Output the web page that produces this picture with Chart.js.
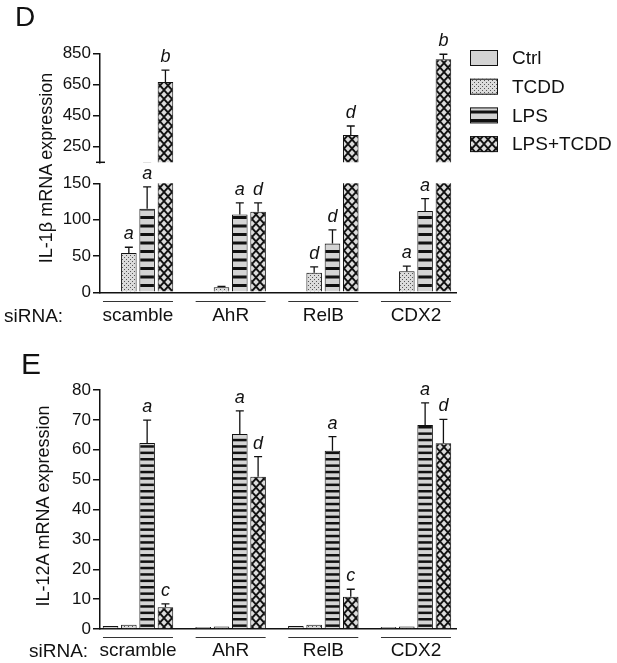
<!DOCTYPE html>
<html lang="en">
<head>
<meta charset="UTF-8">
<title>IL-1β / IL-12A mRNA expression</title>
<script src="https://cdn.jsdelivr.net/npm/chart.js"></script>
<style>
  body { margin: 0; background: #fff; font-family: "Liberation Sans", Arial, sans-serif; color: #111; }
  #wrap { position: relative; width: 617px; height: 663px; overflow: hidden; }
  canvas { position: absolute; left: 0; }
  .txt { position: absolute; white-space: nowrap; line-height: 1; }
  .ytitle { position: absolute; white-space: nowrap; line-height: 1; font-size: 18px;
            transform: translate(-50%, -50%) rotate(-90deg); }
</style>
</head>
<body>
<div id="wrap">
  <canvas id="dTop" width="617" height="175" style="top:0"></canvas>
  <canvas id="dBottom" width="617" height="165" style="top:165px"></canvas>
  <canvas id="eChart" width="617" height="333" style="top:330px"></canvas>

  <div class="txt" style="left:15px; top:3px; font-size:28px">D</div>
  <div class="ytitle" style="left:46px; top:168px">IL-1β mRNA expression</div>
  <div class="txt" style="left:4px; top:306px; font-size:19px">siRNA:</div>

  <div class="txt" style="left:21px; top:349px; font-size:30px">E</div>
  <div class="ytitle" style="left:43px; top:506px">IL-12A mRNA expression</div>
  <div class="txt" style="left:29px; top:641px; font-size:19px">siRNA:</div>
</div>

<script>
// group labels as printed in each panel (panel D reads "scamble")
const groupsD = ['scamble', 'AhR', 'RelB', 'CDX2'];
const groupsE = ['scramble', 'AhR', 'RelB', 'CDX2'];
const seriesNames = ['Ctrl', 'TCDD', 'LPS', 'LPS+TCDD'];

// D: IL-1β (broken axis 0-150 / 150-850)
const il1bCtrl = [1, 1, 1, 1];
const il1bTcdd = [54, 7, 27, 29];
const il1bLps = [115, 107, 67, 112];
const il1bLpsTcdd = [666, 111, 325, 812];
const il1bCtrlErr = [0, 0, 0, 0];
const il1bTcddErr = [8, 1, 8, 7];
const il1bLpsErr = [30, 16, 19, 17];
const il1bLpsTcddErr = [76, 12, 58, 32];
const il1bCtrlSig = ['', '', '', ''];
const il1bTcddSig = ['a', '', 'd', 'a'];
const il1bLpsSig = ['a', 'a', 'd', 'a'];
const il1bLpsTcddSig = ['b', 'd', 'd', 'b'];
const il1bTopTicks = [150, 250, 450, 650, 850];
const il1bBottomTicks = [0, 50, 100, 150];

// E: IL-12A
const il12Ctrl = [1.0, 0.7, 1.0, 0.7];
const il12Tcdd = [1.4, 0.8, 1.4, 0.8];
const il12Lps = [62.3, 65.3, 59.7, 68.3];
const il12LpsTcdd = [7.3, 51, 10.8, 62.2];
const il12CtrlErr = [0, 0, 0, 0];
const il12TcddErr = [0, 0, 0, 0];
const il12LpsErr = [7.6, 7.7, 4.7, 7.4];
const il12LpsTcddErr = [1.1, 6.7, 2.5, 8];
const il12CtrlSig = ['', '', '', ''];
const il12TcddSig = ['', '', '', ''];
const il12LpsSig = ['a', 'a', 'a', 'a'];
const il12LpsTcddSig = ['c', 'd', 'c', 'd'];
const il12Ticks = [0, 10, 20, 30, 40, 50, 60, 70, 80];

const FONT = '"Liberation Sans", Arial, sans-serif';
const INK = '#111';
const GRAY = '#d4d4d4';
Chart.defaults.font.family = FONT;
Chart.defaults.color = INK;

// fill patterns
function tile(w, h, draw) {
  const c = document.createElement('canvas');
  c.width = w; c.height = h;
  const g = c.getContext('2d');
  draw(g, w, h);
  return g.createPattern(c, 'repeat');
}
const dots = tile(4, 4, (g) => {
  g.fillStyle = '#dcdcdc'; g.fillRect(0, 0, 4, 4);
  g.fillStyle = '#555'; g.fillRect(0, 0, 1, 1); g.fillRect(2, 2, 1, 1);
});
function stripes(period, n, thick) {
  const h = Math.round(period * n);
  return tile(4, h, (g) => {
    g.fillStyle = GRAY; g.fillRect(0, 0, 4, h);
    g.fillStyle = INK;
    for (let i = 0; i < n; i++) g.fillRect(0, i * period, 4, thick);
  });
}
const hatch = tile(8, 9, (g) => {
  g.fillStyle = INK; g.fillRect(0, 0, 8, 9);
  g.fillStyle = '#dcdcdc';
  [[0, 0], [8, 0], [4, 4.5], [0, 9], [8, 9]].forEach(([cx, cy]) => {
    g.beginPath();
    g.moveTo(cx, cy - 3); g.lineTo(cx + 2.8, cy); g.lineTo(cx, cy + 3); g.lineTo(cx - 2.8, cy);
    g.closePath(); g.fill();
  });
});
const stripesD = stripes(8.5, 2, 3);
const stripesE = stripes(6.4, 5, 2.5);

function makeSets(vals, errs, sigs, lpsFill) {
  const fills = [GRAY, dots, lpsFill, hatch];
  return seriesNames.map((name, k) => ({
    label: name,
    data: vals[k],
    err: errs[k],
    sig: sigs[k],
    backgroundColor: fills[k],
    borderColor: INK,
    borderWidth: 1,
    clip: 0
  }));
}

// error bars + significance letters
const errorBars = {
  id: 'errorBars',
  afterDatasetsDraw(chart) {
    const { ctx, chartArea: a } = chart;
    const y = chart.scales.y;
    chart.data.datasets.forEach((ds, i) => {
      chart.getDatasetMeta(i).data.forEach((bar, j) => {
        const v = ds.data[j];
        const e = ds.err[j] || 0;
        const top = y.getPixelForValue(v + e);
        if (e > 0) {
          ctx.save();
          ctx.beginPath(); ctx.rect(a.left, a.top - 1, a.width, a.height + 1); ctx.clip();
          ctx.strokeStyle = INK; ctx.lineWidth = 1.3;
          ctx.beginPath();
          ctx.moveTo(bar.x, y.getPixelForValue(v)); ctx.lineTo(bar.x, top);
          ctx.moveTo(bar.x - 4, top); ctx.lineTo(bar.x + 4, top);
          ctx.stroke();
          ctx.restore();
        }
        const s = ds.sig[j];
        if (s && v > y.min && v + e <= y.max) {
          ctx.save();
          ctx.font = 'italic 18px ' + FONT;
          ctx.fillStyle = INK; ctx.textAlign = 'center'; ctx.textBaseline = 'alphabetic';
          ctx.fillText(s, bar.x, top - 8);
          ctx.restore();
        }
      });
    });
  }
};

const sideLegend = {
  id: 'sideLegend',
  afterDraw(chart) {
    const ctx = chart.ctx;
    chart.data.datasets.forEach((ds, i) => {
      const y = 50 + i * 28.7;
      ctx.save();
      ctx.fillStyle = ds.backgroundColor; ctx.fillRect(470, y, 28, 16);
      ctx.strokeStyle = INK; ctx.lineWidth = 1; ctx.strokeRect(470.5, y + 0.5, 27, 15);
      ctx.fillStyle = INK; ctx.font = '19px ' + FONT; ctx.textBaseline = 'middle';
      ctx.fillText(ds.label, 512, y + 9);
      ctx.restore();
    });
  }
};

// small cross mark where the upper axis segment stops
const breakMark = {
  id: 'breakMark',
  afterDraw(chart) {
    const { ctx, chartArea: a } = chart;
    ctx.save(); ctx.strokeStyle = INK; ctx.lineWidth = 1.5;
    ctx.beginPath(); ctx.moveTo(a.left - 4, a.bottom); ctx.lineTo(a.left + 5, a.bottom); ctx.stroke();
    ctx.restore();
  }
};

function groupLines(gap, names) {
  return {
    id: 'groupLines',
    afterDraw(chart) {
      const { ctx, chartArea: a } = chart;
      const x = chart.scales.x;
      ctx.save(); ctx.strokeStyle = '#333'; ctx.lineWidth = 1;
      names.forEach((g, i) => {
        const c = x.getPixelForValue(i);
        ctx.beginPath();
        ctx.moveTo(c - 35, Math.round(a.bottom + gap) + 0.5);
        ctx.lineTo(c + 35, Math.round(a.bottom + gap) + 0.5);
        ctx.stroke();
      });
      ctx.restore();
    }
  };
}

function makeOptions(cfg) {
  return {
    responsive: false,
    animation: false,
    layout: { padding: { top: cfg.top, bottom: cfg.bottom, left: 0, right: 161 } },
    datasets: { bar: { categoryPercentage: 0.79, barPercentage: 0.85 } },
    plugins: { legend: { display: false }, tooltip: { enabled: false } },
    scales: {
      x: {
        type: 'linear', min: -0.41, max: 3.432, offset: false,
        display: cfg.showX,
        afterBuildTicks: (s) => { s.ticks = cfg.names.map((g, i) => ({ value: i })); },
        afterFit: (s) => { s.height = cfg.xHeight; },
        border: { display: true, color: INK, width: 1.5 },
        grid: { display: false, drawTicks: false },
        ticks: {
          autoSkip: false, maxRotation: 0, minRotation: 0, padding: cfg.labelPad,
          font: { size: 19 }, color: INK,
          callback: (v) => cfg.names[v]
        }
      },
      y: {
        min: cfg.yTicks[0], max: cfg.yTicks[cfg.yTicks.length - 1],
        afterBuildTicks: (s) => { s.ticks = cfg.yTicks.map((v) => ({ value: v })); },
        afterFit: (s) => { s.width = 100; },
        border: { display: true, color: INK, width: 1.5 },
        grid: {
          drawOnChartArea: false, drawTicks: true, tickLength: 7, lineWidth: 1.5,
          color: (c) => (cfg.hideFirst && c.tick && c.tick.value === cfg.yTicks[0]) ? 'rgba(0,0,0,0)' : INK,
          tickColor: (c) => (cfg.hideFirst && c.tick && c.tick.value === cfg.yTicks[0]) ? 'rgba(0,0,0,0)' : INK
        },
        ticks: {
          padding: 2, font: { size: 17 }, color: INK,
          callback: (v) => (cfg.hideFirst && v === cfg.yTicks[0]) ? '' : v
        }
      }
    }
  };
}

const idx = groupsD.map((g, i) => i);
const il1bVals = [il1bCtrl, il1bTcdd, il1bLps, il1bLpsTcdd];
const il1bErrs = [il1bCtrlErr, il1bTcddErr, il1bLpsErr, il1bLpsTcddErr];
const il1bSigs = [il1bCtrlSig, il1bTcddSig, il1bLpsSig, il1bLpsTcddSig];

new Chart(document.getElementById('dTop'), {
  type: 'bar',
  data: { labels: idx, datasets: makeSets(il1bVals, il1bErrs, il1bSigs, stripesD) },
  options: makeOptions({ top: 53.3, bottom: 12.7, xHeight: 0, showX: false, labelPad: 0,
                         names: groupsD, yTicks: il1bTopTicks, hideFirst: true }),
  plugins: [errorBars, sideLegend, breakMark]
});

new Chart(document.getElementById('dBottom'), {
  type: 'bar',
  data: { labels: idx, datasets: makeSets(il1bVals, il1bErrs, il1bSigs, stripesD) },
  options: makeOptions({ top: 18.3, bottom: 0, xHeight: 37.7, showX: true, labelPad: 12.5,
                         names: groupsD, yTicks: il1bBottomTicks, hideFirst: false }),
  plugins: [errorBars, groupLines(8.4, groupsD)]
});

new Chart(document.getElementById('eChart'), {
  type: 'bar',
  data: {
    labels: idx,
    datasets: makeSets(
      [il12Ctrl, il12Tcdd, il12Lps, il12LpsTcdd],
      [il12CtrlErr, il12TcddErr, il12LpsErr, il12LpsTcddErr],
      [il12CtrlSig, il12TcddSig, il12LpsSig, il12LpsTcddSig],
      stripesE)
  },
  options: makeOptions({ top: 60, bottom: 0, xHeight: 34, showX: true, labelPad: 10.4,
                         names: groupsE, yTicks: il12Ticks, hideFirst: false }),
  plugins: [errorBars, groupLines(7.7, groupsE)]
});
</script>
</body>
</html>
